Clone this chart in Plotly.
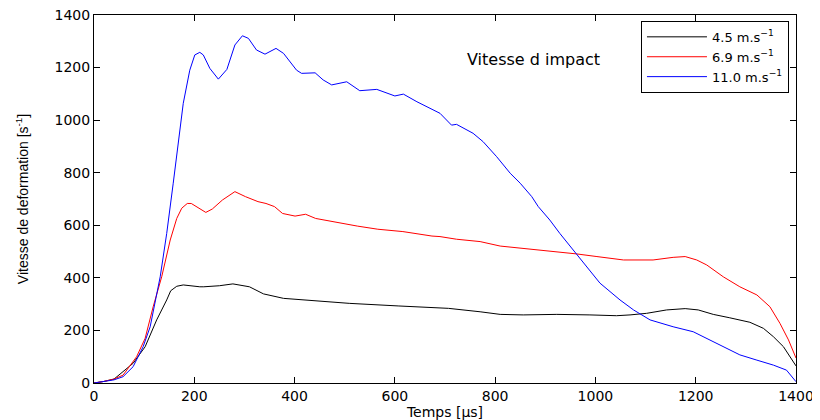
import plotly.graph_objects as go

# Time (µs) and strain rate (s^-1)
t_45 = [0, 20, 40, 58, 78, 102, 125, 145, 153, 165, 178, 211, 219, 250, 277, 310, 338, 378,
        442, 509, 608, 707, 770, 810, 856, 923, 989, 1042, 1069, 1102, 1142, 1179, 1205, 1235,
        1268, 1308, 1335, 1355, 1375, 1400]
v_45 = [0, 6, 15, 43, 75, 138, 240, 316, 351, 368, 373, 366, 366, 370, 377, 366, 339, 322,
        312, 303, 293, 284, 271, 261, 259, 261, 259, 256, 259, 265, 278, 283, 278, 261,
        248, 231, 208, 176, 138, 65]

t_69 = [0, 20, 40, 58, 85, 102, 118, 135, 152, 165, 175, 186, 194, 211, 223, 236, 256, 281,
        302, 327, 343, 360, 376, 401, 422, 442, 475, 525, 566, 616, 674, 690, 723, 770, 810,
        856, 923, 963, 1003, 1056, 1115, 1155, 1179, 1202, 1222, 1255, 1288, 1322, 1348, 1368,
        1385, 1400]
v_69 = [0, 6, 15, 30, 100, 170, 290, 404, 544, 626, 665, 683, 683, 664, 649, 662, 696, 728,
        709, 690, 683, 671, 645, 635, 642, 626, 614, 597, 585, 576, 559, 557, 547, 538, 521,
        512, 500, 491, 481, 468, 468, 478, 481, 468, 449, 404, 366, 335, 290, 227,
        164, 95]

t_110 = [0, 20, 40, 58, 78, 98, 112, 132, 145, 158, 166, 178, 191, 201, 211, 218, 231, 248,
         265, 281, 296, 308, 324, 341, 363, 378, 404, 414, 441, 457, 474, 504, 530, 564, 600,
         617, 644, 677, 690, 713, 723, 756, 776, 803, 830, 850, 873, 886, 909, 929, 956, 983,
         1009, 1049, 1076, 1109, 1155, 1195, 1222, 1255, 1288, 1322, 1355, 1381, 1400]
v_110 = [0, 5, 12, 24, 62, 138, 214, 404, 569, 760, 886, 1064, 1190, 1248, 1258, 1248, 1197, 1156,
         1193, 1286, 1321, 1311, 1267, 1251, 1273, 1254, 1190, 1178, 1180, 1153, 1134, 1146, 1112, 1117, 1092,
         1099, 1070, 1038, 1026, 981, 984, 950, 918, 861, 798, 760, 709, 671, 620, 569, 506, 443,
         380, 316, 278, 240, 214, 195, 170, 138, 107, 87, 68, 49, 5]

names = ["4.5 m.s<sup>\u22121</sup>", "6.9 m.s<sup>\u22121</sup>", "11.0 m.s<sup>\u22121</sup>"]
colors = ["#000000", "#ff0000", "#0000ff"]
x_ticks = [0, 200, 400, 600, 800, 1000, 1200, 1400]
y_ticks = [0, 200, 400, 600, 800, 1000, 1200, 1400]

FONT = "DejaVu Sans, Liberation Sans, Arial, sans-serif"

fig = go.Figure()
for t, v, n, c in zip([t_45, t_69, t_110], [v_45, v_69, v_110], names, colors):
    fig.add_trace(go.Scatter(x=t, y=v, mode="lines", name=n,
                             line=dict(color=c, width=1)))

axis_common = dict(showline=True, linecolor="black", linewidth=1, mirror="ticks",
                   ticks="inside", ticklen=6, tickcolor="black", tickwidth=1,
                   showgrid=False, zeroline=False, automargin=False,
                   ticklabeloverflow="allow",
                   tickfont=dict(family=FONT, size=14, color="black"))

fig.update_xaxes(range=[0, 1400], tickvals=x_ticks,
                 title=dict(text="Temps [\u00b5s]", standoff=0,
                            font=dict(family=FONT, size=14, color="black")),
                 **axis_common)
fig.update_yaxes(range=[0, 1400], tickvals=y_ticks,
                 title=dict(text="Vitesse de deformation [s<sup>-1</sup>]", standoff=22,
                            font=dict(family="Liberation Sans Narrow, Arial Narrow, Liberation Sans, Arial",
                                      size=14, color="black")),
                 **axis_common)

fig.add_annotation(x=740, y=1229, xref="x", yref="y", xanchor="left", yanchor="middle",
                   text="Vitesse d impact", showarrow=False,
                   font=dict(family=FONT, size=16, color="black"))

# page body has an 8px margin, so the figure is sized to fit the 820x420 window
fig.update_layout(
    width=812, height=412,
    margin=dict(l=86, r=24, t=7, b=37),
    paper_bgcolor="white", plot_bgcolor="white",
    showlegend=True,
    legend=dict(x=0.99, y=0.984, xanchor="right", yanchor="top",
                bgcolor="white", bordercolor="black", borderwidth=1,
                font=dict(family=FONT, size=13, color="black"),
                itemwidth=60, tracegroupgap=0),
)

fig.write_html("out.html")
